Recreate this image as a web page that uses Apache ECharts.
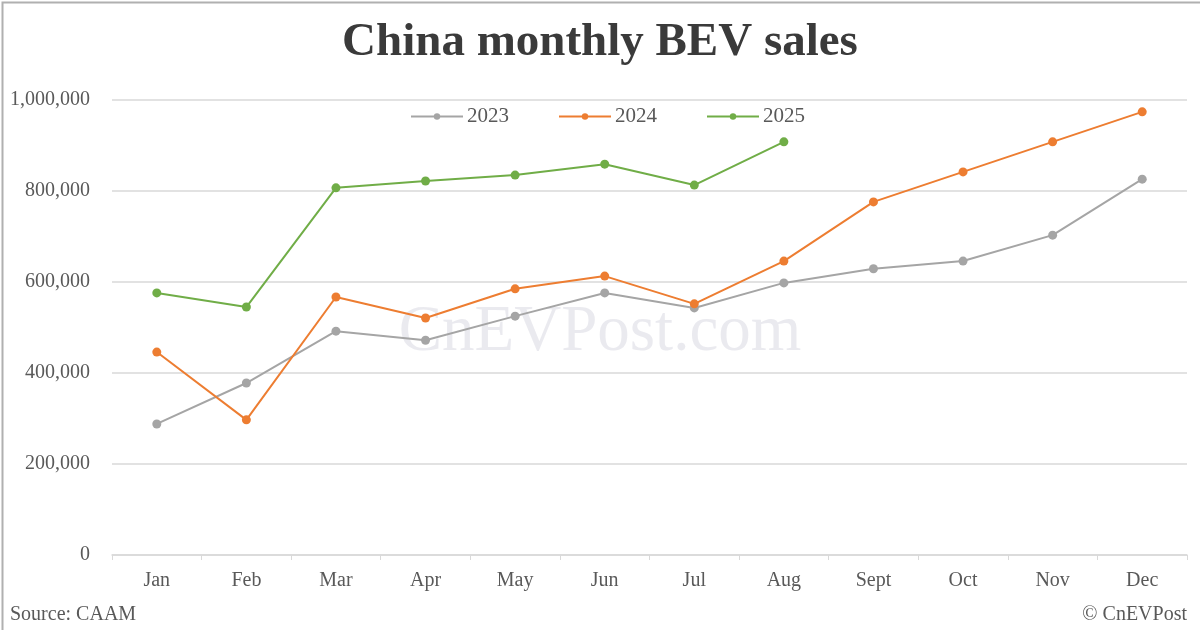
<!DOCTYPE html>
<html><head><meta charset="utf-8">
<script src="https://cdn.jsdelivr.net/npm/echarts@6/dist/echarts.min.js"></script>
<style>html,body{margin:0;padding:0;background:#fff}#c{width:1200px;height:630px}</style>
</head><body><div id="c"></div>
<script>
const months = ['Jan','Feb','Mar','Apr','May','Jun','Jul','Aug','Sept','Oct','Nov','Dec'];
const s2023 = [288000,378000,492000,472000,525000,576000,543000,598000,629000,646000,703000,826000];
const s2024 = [446000,297000,567000,521000,585000,613000,552000,646000,776000,842000,908000,974000];
const s2025 = [576000,545000,807000,822000,835000,859000,813000,908000];
const yTicks = [0,200000,400000,600000,800000,1000000];

const font = '"Liberation Serif","Times New Roman",serif';
const chart = echarts.init(document.getElementById('c'));
const mk = (name, data, color) => ({
  name, type:'line', data, symbol:'circle', symbolSize:9,
  lineStyle:{color, width:2}, itemStyle:{color}, z: 3
});
chart.setOption({
  animation:false,
  backgroundColor:'#fff',
  title:{text:'China monthly BEV sales', left:'center', top:14,
    textStyle:{fontFamily:font, fontSize:47, fontWeight:'bold', color:'#3a3a3a'}},
  legend:{top:101, left:405, itemGap:49, itemWidth:52, itemHeight:8,
    textStyle:{fontFamily:font, fontSize:21, color:'#595959', padding:[0,0,0,-1]},
    data:['2023','2024','2025']},
  grid:{left:112, right:13, top:100, bottom:75},
  xAxis:{type:'category', data:months, boundaryGap:true,
    axisLine:{lineStyle:{color:'#d9d9d9', width:1.5}},
    axisTick:{show:true, length:5, lineStyle:{color:'#d9d9d9'}},
    axisLabel:{fontFamily:font, fontSize:20, color:'#595959', margin:16}},
  yAxis:{type:'value', min:yTicks[0], max:yTicks[yTicks.length-1], interval:200000,
    axisLine:{show:false}, axisTick:{show:false},
    splitLine:{lineStyle:{color:'#d9d9d9', width:1.5}},
    axisLabel:{fontFamily:font, fontSize:20, color:'#595959', margin:22,
      formatter:v=>v.toLocaleString('en-US')}},
  graphic:[
    {type:'rect', left:0, top:0, shape:{width:1199, height:629}, style:{fill:'none', stroke:'#b0b0b0', lineWidth:2}, silent:true},
    {type:'text', left:'center', top:300, z:1, style:{text:'CnEVPost.com', font:'65px "Liberation Serif",serif', fill:'rgba(200,200,212,0.38)'}},
    {type:'text', left:10, top:605, style:{text:'Source: CAAM', font:'20px "Liberation Serif",serif', fill:'#595959'}},
    {type:'text', right:13, top:605, style:{text:'© CnEVPost', font:'20px "Liberation Serif",serif', fill:'#595959'}}
  ],
  series:[mk('2023', s2023, '#a5a5a5'), mk('2024', s2024, '#ed7d31'), mk('2025', s2025, '#70ad47')]
});
</script></body></html>
